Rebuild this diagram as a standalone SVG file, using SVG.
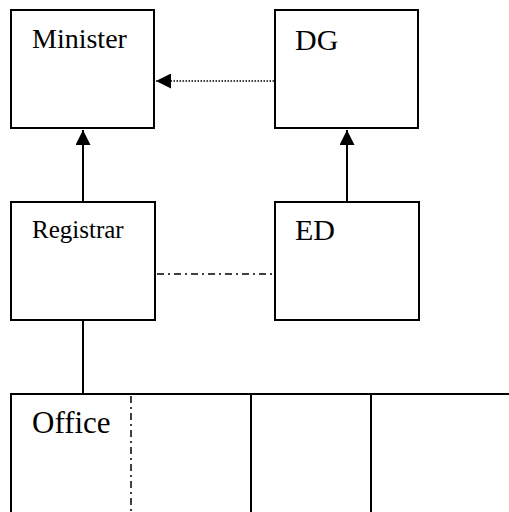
<svg xmlns="http://www.w3.org/2000/svg" width="509" height="512" viewBox="0 0 509 512">
<style>
.box{fill:#fff;stroke:#000;stroke-width:2}
.t{fill:#000}
.ln{stroke:#000;stroke-width:2;fill:none}
.dot{stroke:#000;stroke-width:1.5;stroke-dasharray:1.5,1.5;fill:none}
.dd{stroke:#000;stroke-width:1.5;stroke-dasharray:7,4,2,4;fill:none}
</style>
<defs>
<marker id="ah" viewBox="0 0 10 10" refX="10" refY="5" markerWidth="16" markerHeight="15" markerUnits="userSpaceOnUse" orient="auto">
<path d="M0,0 L10,5 L0,10 Z" fill="#000"/>
</marker>
</defs>
<rect width="509" height="512" fill="#fff"/>
<g id="connectors">
<line class="dot" x1="274" y1="81" x2="156" y2="81" marker-end="url(#ah)"/>
<line class="ln" x1="83" y1="202" x2="83" y2="130" marker-end="url(#ah)"/>
<line class="ln" x1="347" y1="202" x2="347" y2="130" marker-end="url(#ah)"/>
<line class="dd" x1="157" y1="274" x2="275" y2="274"/>
<line class="ln" x1="83" y1="321" x2="83" y2="394"/>
</g>
<g id="minister">
<rect class="box" x="11" y="10" width="143" height="118"/>
<text class="t" font-family="'Liberation Serif', 'DejaVu Serif', serif" x="32" y="48" font-size="28">Minister</text>
</g>
<g id="dg">
<rect class="box" x="275" y="10" width="143" height="118"/>
<text class="t" font-family="'Liberation Serif', 'DejaVu Serif', serif" x="295" y="50" font-size="30">DG</text>
</g>
<g id="registrar">
<rect class="box" x="11" y="202" width="144" height="118"/>
<text class="t" font-family="'Liberation Serif', 'DejaVu Serif', serif" x="32" y="238" font-size="25">Registrar</text>
</g>
<g id="ed">
<rect class="box" x="275" y="202" width="144" height="118"/>
<text class="t" font-family="'Liberation Serif', 'DejaVu Serif', serif" x="295" y="240" font-size="30">ED</text>
</g>
<g id="office">
<path class="ln" d="M11,512 V394 H509 M251,394 V512 M371,394 V512"/>
<line class="dd" x1="131" y1="396" x2="131" y2="512"/>
<text class="t" font-family="'Liberation Serif', 'DejaVu Serif', serif" x="32" y="433" font-size="31">Office</text>
</g>
</svg>
